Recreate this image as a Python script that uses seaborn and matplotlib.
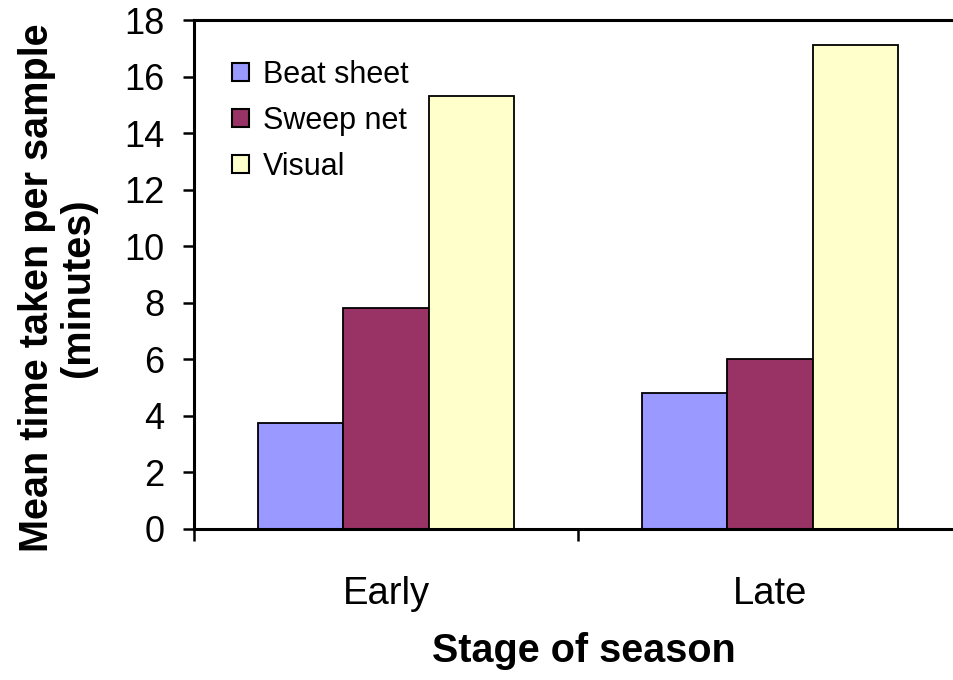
import numpy as np
import pandas as pd
import matplotlib
matplotlib.use("Agg")
import matplotlib.pyplot as plt
from matplotlib.patches import Patch
from matplotlib.ticker import MultipleLocator, FixedLocator
import seaborn as sns

# data
stages = ["Early", "Late"]
methods = ["Beat sheet", "Sweep net", "Visual"]
beat_sheet = [3.75, 4.8]
sweep_net = [7.8, 6.0]
visual = [15.3, 17.1]
colors = ["#9999FF", "#993366", "#FFFFCC"]

df = pd.DataFrame({
    "stage": stages * 3,
    "method": np.repeat(methods, len(stages)),
    "time": beat_sheet + sweep_net + visual,
})

sns.set_theme(style="white")
plt.rcParams["font.family"] = ["Liberation Sans", "DejaVu Sans"]
plt.rcParams["text.color"] = "black"

fig = plt.figure(figsize=(9.54, 6.8), dpi=100)
ax = fig.add_axes([194 / 954, 151 / 680, 768 / 954, 509 / 680])

sns.barplot(data=df, x="stage", y="time", hue="method", order=stages,
            hue_order=methods, palette=colors, saturation=1, width=2/3,
            edgecolor="black", linewidth=1.3, errorbar=None, ax=ax)

ax.set_xlim(-0.5, 1.5)
ax.set_ylim(0, 18)
ax.yaxis.set_major_locator(MultipleLocator(2))

# plot area border
for side in ["left", "bottom", "top", "right"]:
    ax.spines[side].set_visible(True)
    ax.spines[side].set_color("black")
    ax.spines[side].set_linewidth(2.2)

ax.tick_params(axis="y", which="major", direction="out", length=8, width=1.8,
               color="black", pad=13.5, labelsize=26, labelcolor="black", left=True)
ax.xaxis.set_minor_locator(FixedLocator([-0.5, 0.5, 1.5]))
ax.tick_params(axis="x", which="major", length=0, pad=34, labelsize=27.5,
               labelcolor="black")
ax.tick_params(axis="x", which="minor", direction="out", length=8.5, width=1.8,
               color="black", bottom=True)

ax.set_xlabel("Stage of season", fontsize=28.5, fontweight="bold",
              va="center", color="black")
ax.xaxis.set_label_coords(0.508, -0.24)
ax.set_ylabel("Mean time taken per sample\n(minutes)", fontsize=28.5,
              fontweight="bold", va="center", linespacing=1.1, color="black")
ax.yaxis.set_label_coords(-0.178, 0.4735)

handles = [Patch(facecolor=c, edgecolor="black", linewidth=1.5) for c in colors]
leg = ax.legend(handles, methods, loc="upper left", bbox_to_anchor=(0.05, 0.922),
                frameon=False, fontsize=22, handlelength=0.55, handleheight=0.55,
                handletextpad=0.45, labelspacing=0.53, borderpad=0, borderaxespad=0)
for t in leg.get_texts():
    t.set_color("black")

fig.savefig("out.png", dpi=100)
